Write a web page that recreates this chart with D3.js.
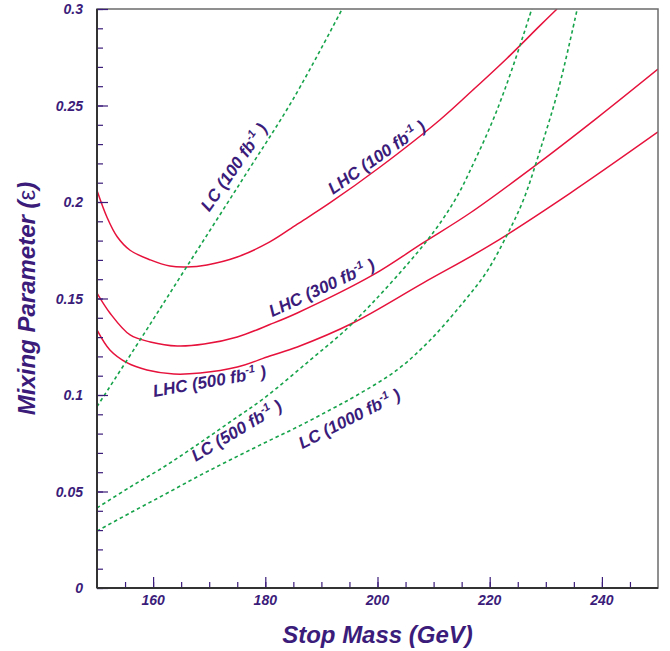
<!DOCTYPE html>
<html>
<head>
<meta charset="utf-8">
<script src="https://cdn.jsdelivr.net/npm/d3@7.9.0/dist/d3.min.js"></script>
<style>
  body { margin: 0; background: #fff; }
  svg text { font-family: 'Liberation Sans', Arial, sans-serif; font-weight: bold; font-style: italic; fill: #3b1c7a; }
</style>
</head>
<body>
<svg id="chart" width="670" height="651"></svg>
<script>
// curves: [stop mass (GeV), mixing parameter]
const lhc100 = [[150, 0.206], [151.8, 0.192], [153.6, 0.182], [155.9, 0.175], [159.5, 0.170], [163, 0.1668],
  [166, 0.1663], [169.6, 0.1674], [175, 0.1715], [180.8, 0.1793], [185.7, 0.1885], [191.5, 0.1995],
  [200.4, 0.218], [211.1, 0.2425], [217, 0.258], [223.1, 0.2745], [229, 0.2915], [232, 0.3]];
const lhc300 = [[150, 0.1528], [152.3, 0.1425], [155.9, 0.1311], [159.5, 0.1275], [164.3, 0.1254], [169.1, 0.1264],
  [175, 0.1301], [180.8, 0.1365], [185.7, 0.1425], [199.2, 0.1622], [208.1, 0.1788], [216.5, 0.1943],
  [228.4, 0.2195], [239.1, 0.2435], [250, 0.2689]];
const lhc500 = [[150, 0.1337], [152.3, 0.1233], [155.4, 0.1166], [158.9, 0.113], [163.7, 0.1109], [168.4, 0.1114],
  [175, 0.1145], [180.8, 0.1202], [185.7, 0.1249], [195.6, 0.1373], [208.1, 0.158], [220, 0.1775],
  [234.3, 0.2045], [250, 0.2363]];
const lc100 = [[150, 0.094], [158, 0.130], [166, 0.1665], [176, 0.212], [185, 0.2535], [193.7, 0.3]];
const lc500 = [[150, 0.0415], [155.9, 0.0523], [161.9, 0.0627], [167.8, 0.0741], [173.7, 0.086], [179.8, 0.0984],
  [188, 0.1181], [195.6, 0.1373], [208.5, 0.1788], [213.8, 0.201], [217.4, 0.2218], [220.8, 0.244],
  [224, 0.269], [227.5, 0.3]];
const lc1000 = [[150, 0.0295], [155.9, 0.0389], [161.9, 0.0482], [167.8, 0.0575], [173.7, 0.0663], [179.8, 0.0751],
  [185.7, 0.0834], [191.5, 0.0922], [196.4, 0.1], [203.5, 0.113], [209.4, 0.1285], [215.2, 0.1477],
  [219.5, 0.164], [223.1, 0.183], [226, 0.201], [229, 0.227], [232.3, 0.259], [235.6, 0.3]];

// label anchor (baseline centre) in data units, rotation in degrees
const curveLabels = [
  { lumi: '100', kind: 'LC', x: 175.25, y: 0.2163, angle: -55 },
  { lumi: '100', kind: 'LHC', x: 200.45, y: 0.2207, angle: -35 },
  { lumi: '300', kind: 'LHC', x: 190.5, y: 0.1528, angle: -25 },
  { lumi: '500', kind: 'LHC', x: 170.2, y: 0.1041, angle: -10 },
  { lumi: '500', kind: 'LC', x: 175.4, y: 0.0789, angle: -31 },
  { lumi: '1000', kind: 'LC', x: 195.45, y: 0.085, angle: -27 },
];

const xTicks = [160, 180, 200, 220, 240];
const yTicks = [0, 0.05, 0.1, 0.15, 0.2, 0.25, 0.3];

const margin = { left: 97, right: 12, top: 9, bottom: 63 };
const width = 670, height = 651;
const purple = '#3b1c7a';

const svg = d3.select('#chart');
const x = d3.scaleLinear().domain([150, 250]).range([margin.left, width - margin.right]);
const y = d3.scaleLinear().domain([0, 0.3]).range([height - margin.bottom, margin.top]);

svg.append('clipPath').attr('id', 'plot-clip')
  .append('rect')
  .attr('x', x(150)).attr('y', y(0.3))
  .attr('width', x(250) - x(150)).attr('height', y(0) - y(0.3));

const line = d3.line()
  .x((d) => x(d[0]))
  .y((d) => y(d[1]))
  .curve(d3.curveCatmullRom.alpha(0.5));

const curves = svg.append('g').attr('clip-path', 'url(#plot-clip)');

[lhc100, lhc300, lhc500].forEach((data) => {
  curves.append('path')
    .attr('d', line(data))
    .attr('fill', 'none')
    .attr('stroke', '#e6123c')
    .attr('stroke-width', 1.5);
});

[lc100, lc500, lc1000].forEach((data) => {
  curves.append('path')
    .attr('d', line(data))
    .attr('fill', 'none')
    .attr('stroke', '#16a34a')
    .attr('stroke-width', 1.6)
    .attr('stroke-dasharray', '3.5,3');
});

// frame
svg.append('rect')
  .attr('x', x(150)).attr('y', y(0.3))
  .attr('width', x(250) - x(150)).attr('height', y(0) - y(0.3))
  .attr('fill', 'none')
  .attr('stroke', '#6b6b6b')
  .attr('stroke-width', 1.5);

// axes: major + minor ticks pointing inwards
const xAxisMinor = d3.axisTop(x).tickValues(d3.range(155, 250, 5)).tickSize(6).tickFormat('');
const xAxisMajor = d3.axisTop(x).tickValues(xTicks).tickSize(11).tickFormat('');
const yAxisMinor = d3.axisRight(y).tickValues(d3.range(0, 0.301, 0.01)).tickSize(6).tickFormat('');
const yAxisMajor = d3.axisRight(y).tickValues(yTicks).tickSize(11).tickFormat('');

[xAxisMinor, xAxisMajor].forEach((axis) => {
  svg.append('g')
    .attr('transform', `translate(0,${y(0)})`)
    .call(axis)
    .call((g) => g.select('.domain').remove())
    .call((g) => g.selectAll('line').attr('stroke', purple).attr('stroke-width', 1.2));
});

[yAxisMinor, yAxisMajor].forEach((axis) => {
  svg.append('g')
    .attr('transform', `translate(${x(150)},0)`)
    .call(axis)
    .call((g) => g.select('.domain').remove())
    .call((g) => g.selectAll('line').attr('stroke', purple).attr('stroke-width', 1.2));
});

// left and bottom axis lines, darker than the frame
svg.append('line')
  .attr('x1', x(150)).attr('x2', x(150)).attr('y1', y(0)).attr('y2', y(0.3))
  .attr('stroke', '#333').attr('stroke-width', 2);
svg.append('line')
  .attr('x1', x(150)).attr('x2', x(250)).attr('y1', y(0)).attr('y2', y(0))
  .attr('stroke', '#333').attr('stroke-width', 2);

// tick labels
svg.append('g')
  .selectAll('text')
  .data(xTicks)
  .join('text')
  .attr('x', (d) => x(d))
  .attr('y', y(0) + 17)
  .attr('text-anchor', 'middle')
  .attr('font-size', 14)
  .text((d) => d);

svg.append('g')
  .selectAll('text')
  .data(yTicks)
  .join('text')
  .attr('x', x(150) - 14)
  .attr('y', (d) => y(d) + 5)
  .attr('text-anchor', 'end')
  .attr('font-size', 14)
  .text((d) => d);

// axis titles
svg.append('text')
  .attr('x', (x(150) + x(250)) / 2)
  .attr('y', 643)
  .attr('text-anchor', 'middle')
  .attr('font-size', 24)
  .text('Stop Mass (GeV)');

const yTitle = svg.append('text')
  .attr('transform', `translate(35,${(y(0) + y(0.3)) / 2}) rotate(-90)`)
  .attr('text-anchor', 'middle')
  .attr('font-size', 24);
yTitle.append('tspan').text('Mixing Parameter (');
yTitle.append('tspan').attr('font-style', 'normal').attr('font-weight', 'normal').text('ε');
yTitle.append('tspan').text(')');

// curve labels
const labels = svg.append('g')
  .selectAll('text')
  .data(curveLabels)
  .join('text')
  .attr('transform', (d) => `translate(${x(d.x)},${y(d.y)}) rotate(${d.angle})`)
  .attr('text-anchor', 'middle')
  .attr('font-size', 17);

labels.append('tspan').text((d) => `${d.kind} (${d.lumi} fb`);
labels.append('tspan').attr('font-size', 11).attr('dy', -7).text('-1');
labels.append('tspan').attr('dy', 7).text(' )');
</script>
</body>
</html>
